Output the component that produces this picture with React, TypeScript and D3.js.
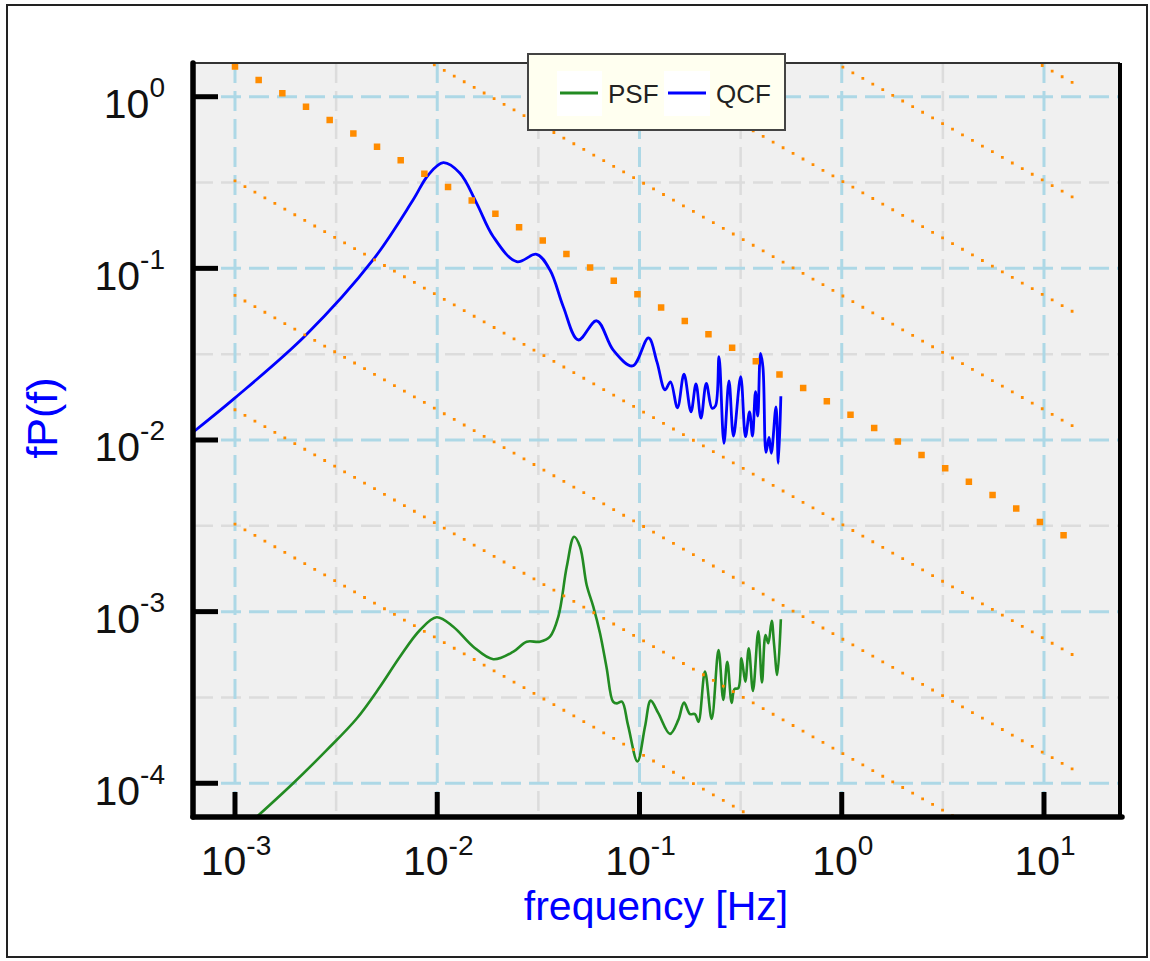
import React from 'react';
import * as d3 from 'd3';

// Canvas and plot frame
const W = 1150;
const H = 961;
const PLOT = { left: 193, top: 63, right: 1120, bottom: 817 };

// Axis extents (log scale)
const xDomain: [number, number] = [6.2e-4, 23.76];
const yDomain: [number, number] = [6.36e-5, 1.572];
const xTickExponents = [-3, -2, -1, 0, 1];
const yTickExponents = [0, -1, -2, -3, -4];

// QCF spectrum (blue)
const qcfFreq = [
  6.2e-4, 1.0e-3, 2.244e-3, 4.81e-3, 7.59e-3, 9.03e-3, 1.072e-2, 1.296e-2, 1.567e-2, 1.893e-2,
  2.471e-2, 3.10e-2, 3.61e-2, 4.20e-2, 4.98e-2, 6.14e-2, 7.42e-2, 9.24e-2, 0.1108, 0.122,
  0.1337, 0.1423, 0.1541, 0.166, 0.1797, 0.1903, 0.2014, 0.214, 0.2283, 0.2376,
  0.2473, 0.2617, 0.277, 0.2916, 0.3165, 0.3343, 0.35, 0.362, 0.3746, 0.3845,
  0.3966, 0.4078, 0.4223, 0.4369, 0.4485, 0.4731, 0.4857, 0.5,
];
const qcfValue = [
  0.0111, 0.0176, 0.0409, 0.1119, 0.25, 0.35, 0.4126, 0.358, 0.2393, 0.1529,
  0.1093, 0.1208, 0.0978, 0.0598, 0.03825, 0.0495, 0.0334, 0.027, 0.0393, 0.0285,
  0.0196, 0.0218, 0.0154, 0.0242, 0.0146, 0.0212, 0.0134, 0.0214, 0.0153, 0.0158,
  0.0306, 0.00957, 0.0221, 0.01055, 0.0234, 0.01045, 0.0146, 0.01055, 0.0191, 0.0138,
  0.032, 0.0265, 0.00846, 0.01034, 0.00837, 0.0156, 0.00732, 0.018,
];

// PSF spectrum (green)
const psfFreq = [
  1.186e-3, 1.94e-3, 2.84e-3, 4.0e-3, 5.21e-3, 6.54e-3, 8.22e-3, 9.94e-3, 1.2e-2, 1.507e-2,
  1.893e-2, 2.38e-2, 2.77e-2, 3.22e-2, 3.61e-2, 3.97e-2, 4.37e-2, 4.75e-2, 5.08e-2, 5.48e-2,
  5.91e-2, 6.38e-2, 6.88e-2, 7.4e-2, 7.74e-2, 8.19e-2, 8.77e-2, 9.77e-2, 0.1065, 0.1136,
  0.1239, 0.1415, 0.1556, 0.166, 0.1777, 0.1881, 0.1957, 0.2108, 0.2275, 0.2459,
  0.2596, 0.2717, 0.2857, 0.2949, 0.308, 0.3194, 0.3335, 0.347, 0.364, 0.3867,
  0.4033, 0.4198, 0.4335, 0.4505, 0.4624, 0.48, 0.5,
];
const psfValue = [
  5.87e-5, 1.0e-4, 1.56e-4, 2.385e-4, 3.65e-4, 5.46e-4, 7.82e-4, 9.27e-4, 8.17e-4, 6.25e-4,
  5.28e-4, 5.85e-4, 6.68e-4, 6.68e-4, 7.15e-4, 9.35e-4, 1.83e-3, 2.73e-3, 2.39e-3, 1.43e-3,
  1.07e-3, 7.48e-4, 4.7e-4, 2.99e-4, 2.92e-4, 2.99e-4, 2.19e-4, 1.34e-4, 2.14e-4, 3.03e-4,
  2.56e-4, 1.94e-4, 2.34e-4, 2.95e-4, 2.53e-4, 2.53e-4, 2.28e-4, 4.47e-4, 2.37e-4, 5.98e-4,
  3.06e-4, 5.11e-4, 2.94e-4, 3.54e-4, 3.58e-4, 5.35e-4, 3.91e-4, 6.12e-4, 3.45e-4, 7.69e-4,
  3.87e-4, 7.31e-4, 6.54e-4, 8.85e-4, 6.54e-4, 4.27e-4, 9.02e-4,
];

// -2/3 power-law guide lines: each passes through refLevel at its anchor frequency
const refLevel = 1.5;
const refSlope = -2 / 3;
const refRange: [number, number] = [1e-3, 15];
const guideAnchors = [1e-7, 1e-6, 1e-5, 1e-4, 1e-2, 1e-1, 1, 10];
const mainAnchor = 1e-3;

const FONT = '"Liberation Sans", Arial, Helvetica, sans-serif';
const ORANGE = '#ff8c00';

export default function App() {
  const x = d3.scaleLog().domain(xDomain).range([PLOT.left, PLOT.right]);
  const y = d3.scaleLog().domain(yDomain).range([PLOT.bottom, PLOT.top]);

  const line = d3
    .line<[number, number]>()
    .x((d) => x(d[0]))
    .y((d) => y(d[1]))
    .curve(d3.curveCatmullRom.alpha(0.5));
  const straight = d3
    .line<[number, number]>()
    .x((d) => x(d[0]))
    .y((d) => y(d[1]));

  const qcf = qcfFreq.map((f, i) => [f, qcfValue[i]] as [number, number]);
  const psf = psfFreq.map((f, i) => [f, psfValue[i]] as [number, number]);
  const guide = (anchor: number) =>
    refRange.map((f) => [f, refLevel * Math.pow(f / anchor, refSlope)] as [number, number]);

  const halfDecades = (lo: number, hi: number) =>
    d3.range(lo, hi).map((k) => Math.pow(10, k + 0.5));
  const xMinor = halfDecades(-4, 2).filter((v) => v > xDomain[0] && v < xDomain[1]);
  const yMinor = halfDecades(-5, 1).filter((v) => v > yDomain[0] && v < yDomain[1]);
  const xMajor = xTickExponents.map((e) => Math.pow(10, e));
  const yMajor = yTickExponents.map((e) => Math.pow(10, e));

  return (
    <svg
      width={W}
      height={H}
      style={{ position: 'absolute', left: 0, top: 0, background: '#ffffff' }}
      fontFamily={FONT}
    >
      <defs>
        <clipPath id="plot-clip">
          <rect x={PLOT.left} y={PLOT.top} width={PLOT.right - PLOT.left} height={PLOT.bottom - PLOT.top} />
        </clipPath>
      </defs>

      {/* figure frame */}
      <rect x={7} y={5} width={1140} height={952} fill="#ffffff" stroke="#222" strokeWidth={2} />

      {/* plot background */}
      <rect x={PLOT.left} y={PLOT.top} width={PLOT.right - PLOT.left} height={PLOT.bottom - PLOT.top} fill="#f0f0f0" />

      {/* grids */}
      <g clipPath="url(#plot-clip)">
        {xMinor.map((v) => (
          <line key={'xm' + v} x1={x(v)} x2={x(v)} y1={PLOT.top} y2={PLOT.bottom} stroke="#dcdcdc" strokeWidth={2.5} strokeDasharray="20 8" />
        ))}
        {yMinor.map((v) => (
          <line key={'ym' + v} x1={PLOT.left} x2={PLOT.right} y1={y(v)} y2={y(v)} stroke="#dcdcdc" strokeWidth={2.5} strokeDasharray="20 8" />
        ))}
        {xMajor.map((v) => (
          <line key={'xM' + v} x1={x(v)} x2={x(v)} y1={PLOT.top} y2={PLOT.bottom} stroke="#add8e6" strokeWidth={3} strokeDasharray="20 8" />
        ))}
        {yMajor.map((v) => (
          <line key={'yM' + v} x1={PLOT.left} x2={PLOT.right} y1={y(v)} y2={y(v)} stroke="#add8e6" strokeWidth={3} strokeDasharray="20 8" />
        ))}
      </g>

      {/* spectra */}
      <g clipPath="url(#plot-clip)" fill="none" strokeLinejoin="round">
        <path d={line(psf) ?? ''} stroke="#228b22" strokeWidth={2.6} />
        <path d={line(qcf) ?? ''} stroke="#0000ff" strokeWidth={2.8} />
      </g>

      {/* power-law guides */}
      <g clipPath="url(#plot-clip)" fill="none" stroke={ORANGE}>
        {guideAnchors.map((a) => (
          <path key={'g' + a} d={straight(guide(a)) ?? ''} strokeWidth={2.8} strokeLinecap="square" strokeDasharray="0 11.45" />
        ))}
        <path d={straight(guide(mainAnchor)) ?? ''} strokeWidth={6.5} strokeLinecap="square" strokeDasharray="0 27.2" />
      </g>

      {/* frame lines */}
      <line x1={PLOT.left} x2={PLOT.right} y1={PLOT.top} y2={PLOT.top} stroke="#333" strokeWidth={2} />
      <line x1={PLOT.right} x2={PLOT.right} y1={PLOT.top} y2={PLOT.bottom} stroke="#000" strokeWidth={4} />
      <line x1={PLOT.left} x2={PLOT.right + 2} y1={PLOT.bottom} y2={PLOT.bottom} stroke="#000" strokeWidth={5.5} strokeLinecap="round" />
      <line x1={PLOT.left} x2={PLOT.left} y1={PLOT.top} y2={PLOT.bottom} stroke="#000" strokeWidth={5.5} strokeLinecap="round" />

      {/* ticks */}
      {xMajor.map((v) => (
        <line key={'xt' + v} x1={x(v)} x2={x(v)} y1={PLOT.bottom} y2={PLOT.bottom - 25} stroke="#000" strokeWidth={5} />
      ))}
      {yMajor.map((v) => (
        <line key={'yt' + v} x1={PLOT.left} x2={PLOT.left + 25} y1={y(v)} y2={y(v)} stroke="#000" strokeWidth={5} />
      ))}

      {/* tick labels */}
      {xTickExponents.map((e) => (
        <text key={'xl' + e} x={x(Math.pow(10, e)) + 1} y={875} textAnchor="middle" fontSize={41} fill="#111">
          10
          <tspan fontSize={28} dy={-20}>
            {String(e)}
          </tspan>
        </text>
      ))}
      {yTickExponents.map((e) => (
        <text key={'yl' + e} x={165} y={y(Math.pow(10, e)) + 21.5} textAnchor="end" fontSize={41} fill="#111">
          10
          <tspan fontSize={28} dy={-21}>
            {String(e)}
          </tspan>
        </text>
      ))}

      {/* axis titles */}
      <text x={656} y={920} textAnchor="middle" fontSize={41} fill="#0000ff">
        frequency [Hz]
      </text>
      <text transform="translate(57,418) rotate(-90)" textAnchor="middle" fontSize={43} fill="#0000ff">
        fP(f)
      </text>

      {/* legend */}
      <g>
        <rect x={528} y={54} width={257} height={76} fill="#fffff0" stroke="#444" strokeWidth={2} />
        <rect x={557} y={71} width={45} height={45} fill="#ffffff" />
        <line x1={560} x2={598} y1={93} y2={93} stroke="#228b22" strokeWidth={3} />
        <text x={608} y={103} fontSize={26} fill="#222">PSF</text>
        <rect x={664} y={71} width={46} height={45} fill="#ffffff" />
        <line x1={668} x2={706} y1={93} y2={93} stroke="#0000ff" strokeWidth={3} />
        <text x={716} y={103} fontSize={26} fill="#222">QCF</text>
      </g>
    </svg>
  );
}
